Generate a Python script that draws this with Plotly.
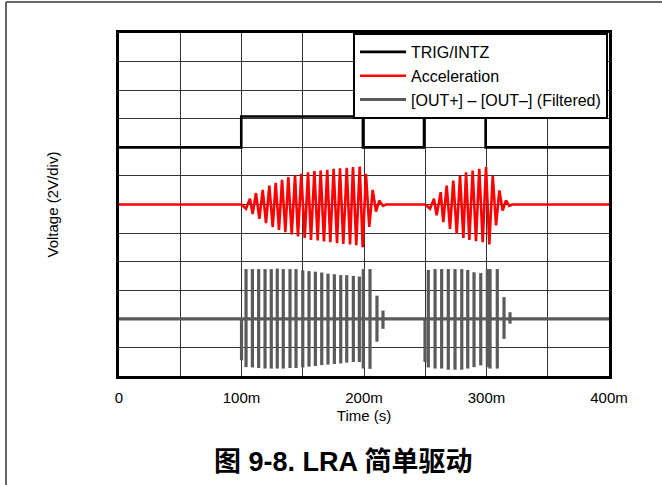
import plotly.graph_objects as go

# TRIG/INTZ steps (s, divisions)
trig_t = [0.0, 0.0998, 0.1991, 0.249, 0.2993, 0.4]
trig_v = [8.0, 9.08, 8.0, 9.08, 8.0, 8.0]

# Acceleration extrema, burst 1 (ms, divisions from baseline)
acc_t1 = [100.0, 103.7, 106.9, 109.1, 111.8, 114.6, 117.3, 120.0, 122.7, 125.5, 127.9,
          130.6, 133.1, 135.8, 138.2, 141.0, 143.7, 146.1, 148.8, 151.6, 154.3,
          156.7, 159.5, 162.2, 164.6, 167.3, 170.0, 172.5, 175.2, 178.0, 180.4,
          183.1, 185.9, 188.6, 191.0, 193.7, 196.5, 198.9, 201.6, 204.3, 207.1,
          209.8, 212.5, 215.5, 218.0]
acc_v1 = [0.0, -0.15, 0.2, -0.33, 0.4, -0.5, 0.51, -0.65, 0.66, -0.79, 0.76,
          -0.89, 0.86, -0.97, 0.96, -1.05, 1.01, -1.12, 1.07, -1.17, 1.13,
          -1.24, 1.17, -1.26, 1.19, -1.29, 1.21, -1.32, 1.25, -1.35, 1.27,
          -1.38, 1.28, -1.40, 1.31, -1.42, 1.33, -1.49, 1.07, -0.78, 0.51,
          -0.25, 0.14, -0.05, 0.0]

# Acceleration extrema, burst 2
acc_t2 = [250.0, 253.9, 257.1, 259.3, 262.6, 264.7, 267.5, 270.2, 272.9, 275.7, 278.4,
          281.1, 283.3, 286.0, 288.7, 291.4, 294.1, 296.9, 299.6, 302.3, 305.1,
          307.8, 310.5, 313.2, 315.9, 318.6, 321.0]
acc_v2 = [0.0, -0.15, 0.2, -0.38, 0.43, -0.62, 0.66, -0.85, 0.84, -1.03, 1.01,
          -1.17, 1.13, -1.24, 1.19, -1.28, 1.25, -1.32, 1.31, -1.40, 1.0,
          -0.73, 0.49, -0.21, 0.14, -0.05, 0.0]

# [OUT+] - [OUT-] drive pulses: time (ms), top and bottom (divisions from baseline)
out_t = [100.0, 103.7, 108.9, 114.0, 119.2, 124.3, 129.2, 134.1, 139.6, 144.5,
         150.0, 155.1, 160.3, 165.5, 170.6, 175.8, 181.0, 185.9, 191.3, 196.2,
         199.4, 204.9, 210.6, 215.5,
         249.8, 252.5, 258.0, 263.4, 268.8, 274.3, 279.8, 284.7, 289.8, 295.3,
         300.7, 302.9, 308.8, 314.3, 319.2]
out_top = [0.0, 1.74, 1.74, 1.74, 1.74, 1.74, 1.76, 1.74, 1.74, 1.74,
           1.70, 1.67, 1.65, 1.62, 1.58, 1.56, 1.53, 1.53, 1.50, 1.48,
           1.74, 1.74, 0.81, 0.29,
           0.0, 1.71, 1.74, 1.74, 1.74, 1.74, 1.74, 1.71, 1.63, 1.60,
           1.74, 1.74, 1.74, 0.76, 0.23]
out_bot = [-1.45, -1.69, -1.70, -1.72, -1.74, -1.74, -1.74, -1.74, -1.72, -1.72,
           -1.70, -1.67, -1.65, -1.62, -1.60, -1.58, -1.56, -1.53, -1.51, -1.51,
           -1.74, -1.75, -0.80, -0.35,
           -1.51, -1.70, -1.74, -1.74, -1.78, -1.78, -1.78, -1.74, -1.69, -1.63,
           -1.69, -1.74, -1.74, -0.70, -0.17]

ACC_BASE = 6.0
OUT_BASE = 2.0
T_END = 0.4

x_ticks = [0, 0.05, 0.1, 0.15, 0.2, 0.25, 0.3, 0.35, 0.4]
x_text = ['0', '', '100m', '', '200m', '', '300m', '', '400m']

FONT = 'Liberation Sans, Arial, sans-serif'

# build traces
acc_x = [0.0] + [t / 1000 for t in acc_t1] + [t / 1000 for t in acc_t2] + [T_END]
acc_y = [ACC_BASE] + [ACC_BASE + v for v in acc_v1] + [ACC_BASE + v for v in acc_v2] + [ACC_BASE]

out_x = [0.0, T_END, None]
out_y = [OUT_BASE, OUT_BASE, None]
for t, a, b in zip(out_t, out_top, out_bot):
    out_x += [t / 1000, t / 1000, None]
    out_y += [OUT_BASE + a, OUT_BASE + b, None]

fig = go.Figure()
fig.add_trace(go.Scatter(x=trig_t, y=trig_v, mode='lines', line_shape='hv',
                         name='TRIG/INTZ', line=dict(color='black', width=2.6)))
fig.add_trace(go.Scatter(x=acc_x, y=acc_y, mode='lines', name='Acceleration',
                         line=dict(color='#ff0000', width=2.6)))
fig.add_trace(go.Scatter(x=out_x, y=out_y, mode='lines', name='[OUT+] – [OUT–] (Filtered)',
                         line=dict(color='#5a5a5a', width=3.2)))

fig.update_xaxes(range=[0, T_END], tickvals=x_ticks, ticktext=x_text, ticks='',
                 showgrid=True, gridcolor='#333333', gridwidth=1.2,
                 showline=True, mirror=True, linecolor='black', linewidth=2.5,
                 zeroline=False, tickfont=dict(size=15, color='black'), ticklabelstandoff=6,
                 title=dict(text='Time (s)', font=dict(size=15, color='black'), standoff=6))
fig.update_yaxes(range=[0, 12], dtick=1, showticklabels=False, ticks='',
                 showgrid=True, gridcolor='#333333', gridwidth=1.2,
                 showline=True, mirror=True, linecolor='black', linewidth=2.5,
                 zeroline=False)

fig.add_annotation(text='Voltage (2V/div)', xref='paper', yref='paper', x=-0.1347, y=0.5,
                   xanchor='center', yanchor='middle',
                   textangle=-90, showarrow=False, font=dict(size=15, color='black'))
fig.add_annotation(text='<b>图 9-8. LRA 简单驱动</b>', xref='paper', yref='paper',
                   x=0.458, y=-0.2507, showarrow=False, yanchor='middle',
                   font=dict(size=27, color='black', family='Liberation Sans, Noto Sans CJK SC'))

# outer frame
fig.add_shape(type='line', xref='paper', yref='paper', x0=-0.2306, x1=-0.2306, y0=1.0904, y1=-0.33,
              line=dict(color='#666666', width=2))
fig.add_shape(type='line', xref='paper', yref='paper', x0=-0.2306, x1=1.12, y0=1.0904, y1=1.0904,
              line=dict(color='#666666', width=2))

fig.update_layout(
    width=662, height=485,
    margin=dict(l=119, r=53, t=33, b=109),
    paper_bgcolor='white', plot_bgcolor='white',
    font=dict(family=FONT, color='black'),
    showlegend=True,
    legend=dict(x=0.4776, y=1, xanchor='left', yanchor='top', bgcolor='white',
                bordercolor='black', borderwidth=2, font=dict(size=16),
                itemwidth=46, tracegroupgap=0),
)

fig.write_html("out.html", config={'displayModeBar': False},
               post_script="document.body.style.margin='0';")
